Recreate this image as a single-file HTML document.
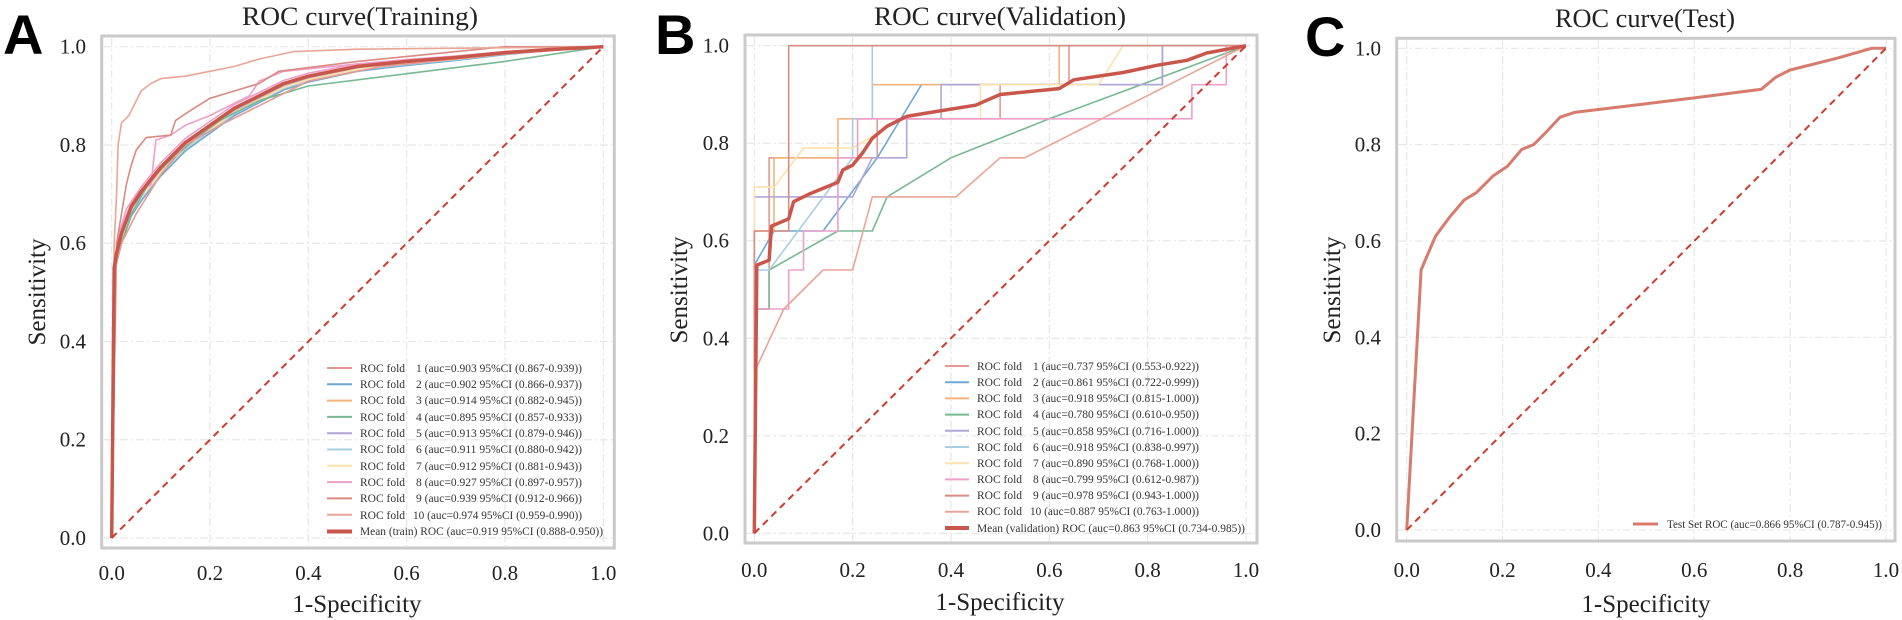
<!DOCTYPE html>
<html><head><meta charset="utf-8"><style>
html,body{margin:0;padding:0;background:#fff}
svg{display:block;font-family:"Liberation Serif","DejaVu Serif",serif}
text{font-family:"Liberation Serif","DejaVu Serif",serif;fill:#222}
text.lt{font-family:"Liberation Sans",Arial,sans-serif;font-weight:bold;fill:#000}
.tk{font-size:21px}
.ax{font-size:25px}
.ti{font-size:26px}
.lg{font-size:11.5px;fill:#333}
</style></head><body>
<svg id="s" width="1902" height="620" viewBox="0 0 1902 620" xmlns="http://www.w3.org/2000/svg" font-family="Liberation Serif, serif">
<g id="curves"></g>
<text class="lt" x="3" y="54" font-size="56" font-family="Liberation Sans, sans-serif">A</text>
<text class="lt" x="655" y="54" font-size="56" font-family="Liberation Sans, sans-serif">B</text>
<text class="lt" x="1305" y="56" font-size="56" font-family="Liberation Sans, sans-serif">C</text>
<text class="ti" x="360" y="25" text-anchor="middle" textLength="236" lengthAdjust="spacingAndGlyphs">ROC curve(Training)</text>
<text class="ti" x="1000" y="25" text-anchor="middle" textLength="252" lengthAdjust="spacingAndGlyphs">ROC curve(Validation)</text>
<text class="ti" x="1645" y="27" text-anchor="middle" textLength="180" lengthAdjust="spacingAndGlyphs">ROC curve(Test)</text>
<text class="ax" x="357" y="612" text-anchor="middle" font-family="Liberation Serif, serif">1-Specificity</text>
<text class="ax" x="1000" y="610" text-anchor="middle" font-family="Liberation Serif, serif">1-Specificity</text>
<text class="ax" x="1646" y="612" text-anchor="middle" font-family="Liberation Serif, serif">1-Specificity</text>
<text class="ax" transform="translate(45,292) rotate(-90)" text-anchor="middle" font-family="Liberation Serif, serif">Sensitivity</text>
<text class="ax" transform="translate(687,290) rotate(-90)" text-anchor="middle" font-family="Liberation Serif, serif">Sensitivity</text>
<text class="ax" transform="translate(1340,290) rotate(-90)" text-anchor="middle" font-family="Liberation Serif, serif">Sensitivity</text>
<g id="ticks"></g>
<g font-family="Liberation Serif, serif">
<text class="lg" x="360" y="372">ROC fold</text><text class="lg" x="416" y="372" textLength="166" lengthAdjust="spacingAndGlyphs">1 (auc=0.903 95%CI (0.867-0.939))</text>
<text class="lg" x="360" y="388">ROC fold</text><text class="lg" x="416" y="388" textLength="166" lengthAdjust="spacingAndGlyphs">2 (auc=0.902 95%CI (0.866-0.937))</text>
<text class="lg" x="360" y="404">ROC fold</text><text class="lg" x="416" y="404" textLength="166" lengthAdjust="spacingAndGlyphs">3 (auc=0.914 95%CI (0.882-0.945))</text>
<text class="lg" x="360" y="421">ROC fold</text><text class="lg" x="416" y="421" textLength="166" lengthAdjust="spacingAndGlyphs">4 (auc=0.895 95%CI (0.857-0.933))</text>
<text class="lg" x="360" y="437">ROC fold</text><text class="lg" x="416" y="437" textLength="166" lengthAdjust="spacingAndGlyphs">5 (auc=0.913 95%CI (0.879-0.946))</text>
<text class="lg" x="360" y="453">ROC fold</text><text class="lg" x="416" y="453" textLength="166" lengthAdjust="spacingAndGlyphs">6 (auc=0.911 95%CI (0.880-0.942))</text>
<text class="lg" x="360" y="470">ROC fold</text><text class="lg" x="416" y="470" textLength="166" lengthAdjust="spacingAndGlyphs">7 (auc=0.912 95%CI (0.881-0.943))</text>
<text class="lg" x="360" y="486">ROC fold</text><text class="lg" x="416" y="486" textLength="166" lengthAdjust="spacingAndGlyphs">8 (auc=0.927 95%CI (0.897-0.957))</text>
<text class="lg" x="360" y="502">ROC fold</text><text class="lg" x="416" y="502" textLength="166" lengthAdjust="spacingAndGlyphs">9 (auc=0.939 95%CI (0.912-0.966))</text>
<text class="lg" x="360" y="519">ROC fold</text><text class="lg" x="413" y="519" textLength="169" lengthAdjust="spacingAndGlyphs">10 (auc=0.974 95%CI (0.959-0.990))</text>
<text class="lg" x="360" y="535" textLength="243" lengthAdjust="spacingAndGlyphs">Mean (train) ROC (auc=0.919 95%CI (0.888-0.950))</text>
<text class="lg" x="977" y="370">ROC fold</text><text class="lg" x="1033" y="370" textLength="166" lengthAdjust="spacingAndGlyphs">1 (auc=0.737 95%CI (0.553-0.922))</text>
<text class="lg" x="977" y="386">ROC fold</text><text class="lg" x="1033" y="386" textLength="166" lengthAdjust="spacingAndGlyphs">2 (auc=0.861 95%CI (0.722-0.999))</text>
<text class="lg" x="977" y="402">ROC fold</text><text class="lg" x="1033" y="402" textLength="166" lengthAdjust="spacingAndGlyphs">3 (auc=0.918 95%CI (0.815-1.000))</text>
<text class="lg" x="977" y="418">ROC fold</text><text class="lg" x="1033" y="418" textLength="166" lengthAdjust="spacingAndGlyphs">4 (auc=0.780 95%CI (0.610-0.950))</text>
<text class="lg" x="977" y="435">ROC fold</text><text class="lg" x="1033" y="435" textLength="166" lengthAdjust="spacingAndGlyphs">5 (auc=0.858 95%CI (0.716-1.000))</text>
<text class="lg" x="977" y="451">ROC fold</text><text class="lg" x="1033" y="451" textLength="166" lengthAdjust="spacingAndGlyphs">6 (auc=0.918 95%CI (0.838-0.997))</text>
<text class="lg" x="977" y="467">ROC fold</text><text class="lg" x="1033" y="467" textLength="166" lengthAdjust="spacingAndGlyphs">7 (auc=0.890 95%CI (0.768-1.000))</text>
<text class="lg" x="977" y="483">ROC fold</text><text class="lg" x="1033" y="483" textLength="166" lengthAdjust="spacingAndGlyphs">8 (auc=0.799 95%CI (0.612-0.987))</text>
<text class="lg" x="977" y="499">ROC fold</text><text class="lg" x="1033" y="499" textLength="166" lengthAdjust="spacingAndGlyphs">9 (auc=0.978 95%CI (0.943-1.000))</text>
<text class="lg" x="977" y="515">ROC fold</text><text class="lg" x="1030" y="515" textLength="169" lengthAdjust="spacingAndGlyphs">10 (auc=0.887 95%CI (0.763-1.000))</text>
<text class="lg" x="977" y="532" textLength="268" lengthAdjust="spacingAndGlyphs">Mean (validation) ROC (auc=0.863 95%CI (0.734-0.985))</text>
<text class="lg" x="1667" y="528" textLength="215" lengthAdjust="spacingAndGlyphs">Test Set ROC (auc=0.866 95%CI (0.787-0.945))</text>
</g>
</svg>
<script>
var NS="http://www.w3.org/2000/svg";
var cg=document.getElementById("curves"), tg=document.getElementById("ticks");
function el(p,n,a){var e=document.createElementNS(NS,n);for(var k in a)e.setAttribute(k,a[k]);p.appendChild(e);return e;}
var P={A:{x0:111.7,x1:603.3,y0:538,y1:46.7,fl:101.7,fr:614.3,ft:36,fb:548,yl:86},
       B:{x0:754.3,x1:1246,y0:533.3,y1:45.7,fl:745,fr:1257,ft:35,fb:543,yl:729},
       C:{x0:1406.7,x1:1886,y0:530,y1:48.3,fl:1396.7,fr:1895,ft:38.3,fb:541,yl:1381}};
function X(p,v){return p.x0+(p.x1-p.x0)*v}
function Y(p,v){return p.y0+(p.y1-p.y0)*v}
function line(p,pts,col,w){var s=pts.map(function(q){return X(p,q[0]).toFixed(1)+","+Y(p,q[1]).toFixed(1)}).join(" ");
 el(cg,"polyline",{points:s,fill:"none",stroke:col,"stroke-width":w,"stroke-linejoin":"round"});}
["A","B","C"].forEach(function(k){var p=P[k];
 for(var i=0;i<=5;i++){var v=i/5;
  el(cg,"line",{x1:X(p,v),x2:X(p,v),y1:p.ft+2,y2:p.fb-2,stroke:"#e6e6e6","stroke-width":1.2,"stroke-dasharray":"8,3,2,3"});
  el(cg,"line",{y1:Y(p,v),y2:Y(p,v),x1:p.fl+2,x2:p.fr-2,stroke:"#e6e6e6","stroke-width":1.2,"stroke-dasharray":"8,3,2,3"});
  var t=el(tg,"text",{x:X(p,v),y:(k=="A"?580:577),"text-anchor":"middle","class":"tk","font-family":"Liberation Serif, serif","font-size":"21"});t.textContent=v.toFixed(1);
  var t2=el(tg,"text",{x:p.yl,y:Y(p,v)+7,"text-anchor":"end","class":"tk","font-family":"Liberation Serif, serif","font-size":"21"});t2.textContent=v.toFixed(1);
 }
 el(cg,"rect",{x:p.fl,y:p.ft,width:p.fr-p.fl,height:p.fb-p.ft,fill:"none",stroke:"#cacaca","stroke-width":3});
});
var col=["#e39a93","#6ea8d4","#f3b57c","#78b995","#b0a6d6","#a9cde0","#fbe2ac","#ef9fc9","#d98a82","#e9a596"];
var A=P.A;
function jit(base,dy){return base.map(function(q,i){if(i==0||q[0]>=1)return q;return [q[0],Math.max(0,Math.min(1,q[1]+dy*(1-q[0])))]});}
var meanA=[[0,0],[0.005,0.55],[0.01,0.58],[0.02,0.62],[0.04,0.675],[0.06,0.705],[0.08,0.73],[0.1,0.755],[0.12,0.775],[0.15,0.805],[0.2,0.84],[0.25,0.875],[0.3,0.9],[0.35,0.925],[0.4,0.94],[0.5,0.96],[0.6,0.97],[0.7,0.978],[0.8,0.988],[0.9,0.995],[1,1]];
var offs=[0,-0.02,-0.01,0,-0.005,-0.015,-0.012,0.01,0,0];
for(var i=1;i<8;i++){ line(A,jit(meanA,offs[i]),col[i],1.6); }
line(A,[[0,0],[0.005,0.55],[0.02,0.6],[0.04,0.66],[0.08,0.73],[0.12,0.77],[0.18,0.82],[0.22,0.85],[0.3,0.89],[0.4,0.92],[0.6,0.945],[0.8,0.97],[1,1]],col[3],1.6);
line(A,[[0,0],[0.005,0.55],[0.015,0.62],[0.03,0.67],[0.05,0.7],[0.08,0.72],[0.09,0.81],[0.12,0.82],[0.15,0.84],[0.2,0.86],[0.28,0.9],[0.3,0.93],[0.35,0.95],[0.5,0.965],[0.8,0.985],[1,1]],col[7],1.6);
line(A,[[0,0],[0.01,0.6],[0.02,0.66],[0.03,0.72],[0.04,0.76],[0.05,0.79],[0.07,0.815],[0.12,0.82],[0.13,0.85],[0.16,0.87],[0.2,0.895],[0.25,0.91],[0.3,0.925],[0.34,0.95],[0.5,0.97],[0.8,1],[1,1]],col[8],1.6);
line(A,[[0,0],[0.005,0.6],[0.01,0.7],[0.013,0.8],[0.02,0.845],[0.035,0.86],[0.05,0.89],[0.06,0.91],[0.08,0.925],[0.1,0.935],[0.15,0.94],[0.2,0.95],[0.25,0.96],[0.3,0.975],[0.37,0.99],[0.5,0.995],[1,1]],col[9],1.6);
line(A,[[0,0],[0.005,0.5],[0.01,0.56],[0.02,0.6],[0.05,0.66],[0.1,0.74],[0.15,0.8],[0.22,0.84],[0.3,0.88],[0.4,0.93],[0.55,0.96],[0.8,0.985],[1,1]],col[0],1.6);
line(A,meanA,"#c9564a",3.5);
el(cg,"line",{x1:X(A,0),y1:Y(A,0),x2:X(A,1),y2:Y(A,1),stroke:"#d03a2e","stroke-width":2,"stroke-dasharray":"7,5"});
var B=P.B;
var fb=[
[[0,0],[0,0.46],[0.03,0.46],[0.03,0.77],[0.25,0.77],[0.25,0.85],[0.5,0.85],[0.5,0.92],[0.64,0.92],[0.64,1],[1,1]],
[[0,0],[0,0.55],[0.04,0.62],[0.14,0.62],[0.25,0.77],[0.34,0.92],[0.83,0.92],[0.83,1],[1,1]],
[[0,0],[0,0.62],[0.04,0.62],[0.04,0.77],[0.17,0.77],[0.17,0.85],[0.24,0.85],[0.24,0.92],[0.62,0.92],[0.62,1],[1,1]],
[[0,0],[0,0.46],[0.03,0.46],[0.03,0.54],[0.17,0.62],[0.24,0.62],[0.27,0.69],[0.4,0.77],[0.6,0.85],[1,1]],
[[0,0],[0,0.69],[0.2,0.69],[0.24,0.77],[0.31,0.77],[0.31,0.85],[0.38,0.85],[0.38,0.92],[0.83,0.92],[0.83,1],[1,1]],
[[0,0],[0,0.54],[0.03,0.54],[0.2,0.77],[0.2,0.85],[0.24,0.85],[0.24,1],[1,1]],
[[0,0],[0,0.71],[0.04,0.71],[0.1,0.79],[0.2,0.79],[0.3,0.85],[0.46,0.85],[0.46,0.92],[0.7,0.92],[0.75,1],[1,1]],
[[0,0],[0,0.46],[0.07,0.46],[0.07,0.54],[0.1,0.54],[0.1,0.62],[0.17,0.62],[0.17,0.77],[0.21,0.77],[0.21,0.85],[0.89,0.85],[0.89,0.92],[0.96,0.92],[0.96,1],[1,1]],
[[0,0],[0,0.62],[0.07,0.62],[0.07,1],[1,1]],
[[0,0],[0,0.33],[0.06,0.46],[0.14,0.54],[0.2,0.54],[0.24,0.69],[0.41,0.69],[0.5,0.77],[0.55,0.77],[1,1]]
];
fb.forEach(function(c,i){line(B,c,col[i],1.6);});
line(B,[[0,0],[0.005,0.55],[0.03,0.56],[0.035,0.63],[0.07,0.645],[0.08,0.68],[0.11,0.695],[0.17,0.72],[0.18,0.745],[0.2,0.755],[0.22,0.78],[0.24,0.81],[0.27,0.835],[0.31,0.855],[0.37,0.865],[0.45,0.878],[0.5,0.9],[0.62,0.912],[0.65,0.93],[0.75,0.945],[0.82,0.96],[0.88,0.97],[0.92,0.985],[1,1]],"#c9564a",3.5);
el(cg,"line",{x1:X(B,0),y1:Y(B,0),x2:X(B,1),y2:Y(B,1),stroke:"#d03a2e","stroke-width":2,"stroke-dasharray":"7,5"});
var C=P.C;
line(C,[[0,0],[0.03,0.54],[0.06,0.61],[0.09,0.65],[0.12,0.685],[0.145,0.70],[0.18,0.735],[0.21,0.755],[0.24,0.79],[0.265,0.80],[0.29,0.825],[0.32,0.857],[0.35,0.867],[0.5,0.885],[0.6,0.897],[0.74,0.915],[0.77,0.94],[0.8,0.955],[0.9,0.98],[0.97,1],[1,1]],"#d77b6d",3);
el(cg,"line",{x1:X(C,0),y1:Y(C,0),x2:X(C,1),y2:Y(C,1),stroke:"#d03a2e","stroke-width":2,"stroke-dasharray":"7,5"});
for(var i=0;i<10;i++){el(cg,"line",{x1:327,x2:352,y1:368+16.3*i,y2:368+16.3*i,stroke:col[i],"stroke-width":2});
 el(cg,"line",{x1:945,x2:969,y1:366+16.2*i,y2:366+16.2*i,stroke:col[i],"stroke-width":2});}
el(cg,"line",{x1:327,x2:352,y1:531.5,y2:531.5,stroke:"#c9564a","stroke-width":4});
el(cg,"line",{x1:945,x2:969,y1:528,y2:528,stroke:"#c9564a","stroke-width":4});
el(cg,"line",{x1:1633,x2:1658,y1:524,y2:524,stroke:"#d77b6d","stroke-width":3});
</script>
</body></html>
